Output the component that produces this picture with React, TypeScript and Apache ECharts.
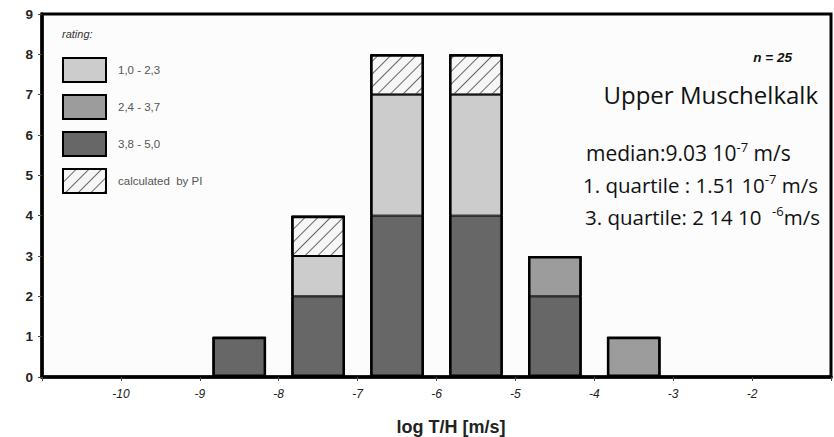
import React, { useEffect, useRef } from "react";
import * as echarts from "echarts";

// bins of log T/H (centres), one unit wide, from -11 to -1
const binCenters = ["-10.5", "-9.5", "-8.5", "-7.5", "-6.5", "-5.5", "-4.5", "-3.5", "-2.5", "-1.5"];
const rating10to23 = [0, 0, 0, 1, 3, 3, 0, 0, 0, 0];
const rating24to37 = [0, 0, 0, 0, 0, 0, 1, 1, 0, 0];
const rating38to50 = [0, 0, 1, 2, 4, 4, 2, 0, 0, 0];
const calculatedByPI = [0, 0, 0, 1, 1, 1, 0, 0, 0, 0];
const seriesNames = ["1,0 - 2,3", "2,4 - 3,7", "3,8 - 5,0", "calculated  by PI"];
const xMin = -11;
const xMax = -1;
const yMin = 0;
const yMax = 9;

const toBar = (arr: number[]) => arr.map((v) => (v === 0 ? "-" : v));
const totals = binCenters.map(
  (_, i) => rating10to23[i] + rating24to37[i] + rating38to50[i] + calculatedByPI[i]
);

export default function App() {
  const ref = useRef<HTMLDivElement>(null);
  useEffect(() => {
    if (!ref.current) return;
    const chart = echarts.init(ref.current, undefined, { renderer: "svg" });
    const barCommon = {
      type: "bar" as const,
      stack: "total",
      xAxisIndex: 0,
      barWidth: "68%",
      barGap: "-100%",
    };
    const sans = "'Liberation Sans', Arial, sans-serif";
    const myriad = "'Open Sans', 'Noto Sans', sans-serif";
    const supRich = {
      sup: { fontFamily: myriad, fontSize: 13, fill: "#111", verticalAlign: "top" as const, lineHeight: 14 },
    };
    chart.setOption({
      animation: false,
      backgroundColor: "#ffffff",
      grid: {
        left: 42,
        right: 3,
        top: 14,
        bottom: 60,
        show: true,
        borderColor: "#000",
        borderWidth: 3,
        backgroundColor: "#fcfcfc",
      },
      legend: {
        orient: "vertical",
        left: 62,
        top: 57,
        padding: 0,
        itemWidth: 43,
        itemHeight: 24,
        itemGap: 11,
        icon: "rect",
        selectedMode: false,
        data: [seriesNames[0], seriesNames[1], seriesNames[2], seriesNames[3]],
        textStyle: { fontFamily: sans, fontSize: 11.5, color: "#555", padding: [0, 0, 0, 7] },
      },
      xAxis: [
        {
          type: "category",
          data: binCenters,
          position: "bottom",
          axisLine: { show: false },
          axisTick: { show: false },
          axisLabel: { show: false },
          splitLine: { show: false },
        },
        {
          type: "value",
          min: xMin,
          max: xMax,
          interval: 1,
          position: "bottom",
          axisLine: { show: true, onZero: false, lineStyle: { color: "#000", width: 3.5 } },
          axisTick: { show: true, length: 4, lineStyle: { color: "#444", width: 1 } },
          axisLabel: {
            margin: 11,
            fontFamily: sans,
            fontStyle: "italic",
            fontSize: 12,
            color: "#222",
            formatter: (v: number) => (v === xMin || v === xMax ? "" : String(v)),
          },
          splitLine: { show: false },
        },
      ],
      yAxis: {
        type: "value",
        min: yMin,
        max: yMax,
        interval: 1,
        axisLine: { show: true, lineStyle: { color: "#000", width: 3.5 } },
        axisTick: { show: true, length: 4, lineStyle: { color: "#444", width: 1 } },
        axisLabel: { margin: 9, fontFamily: sans, fontWeight: "bold", fontSize: 13.5, color: "#222" },
        splitLine: { show: false },
      },
      series: [
        {
          ...barCommon,
          name: seriesNames[2],
          data: toBar(rating38to50),
          itemStyle: { color: "#676767", borderColor: "#000", borderWidth: 1 },
        },
        {
          ...barCommon,
          name: seriesNames[1],
          data: toBar(rating24to37),
          itemStyle: { color: "#9c9c9c", borderColor: "#000", borderWidth: 1 },
        },
        {
          ...barCommon,
          name: seriesNames[0],
          data: toBar(rating10to23),
          itemStyle: { color: "#cccccc", borderColor: "#000", borderWidth: 1 },
        },
        {
          ...barCommon,
          name: seriesNames[3],
          data: toBar(calculatedByPI),
          itemStyle: {
            color: "#f6f6f6",
            borderColor: "#000",
            borderWidth: 1,
            decal: {
              symbol: "rect",
              symbolSize: 1,
              dashArrayX: [1, 0],
              dashArrayY: [1, 8],
              rotation: -Math.PI / 4,
              color: "#666",
              backgroundColor: "#f6f6f6",
            },
          },
        },
        {
          type: "bar",
          name: "outline",
          xAxisIndex: 0,
          barWidth: "68%",
          barGap: "-100%",
          data: toBar(totals),
          silent: true,
          itemStyle: { color: "rgba(0,0,0,0)", borderColor: "#000", borderWidth: 2.5 },
        },
      ],
      graphic: [
        {
          type: "text",
          left: 62,
          top: 28,
          style: { text: "rating:", fontFamily: sans, fontStyle: "italic", fontSize: 11, fill: "#333" },
        },
        {
          type: "text",
          style: {
            x: 792,
            y: 57,
            align: "right",
            verticalAlign: "middle",
            text: "n = 25",
            fontFamily: sans,
            fontStyle: "italic",
            fontWeight: "bold",
            fontSize: 13.5,
            fill: "#111",
          },
        },
        {
          type: "text",
          style: {
            x: 818,
            y: 94,
            align: "right",
            verticalAlign: "middle",
            text: "Upper Muschelkalk",
            fontFamily: myriad,
            fontSize: 24,
            fill: "#111",
          },
        },
        {
          type: "text",
          style: {
            x: 586,
            y: 153,
            verticalAlign: "middle",
            text: "median:9.03 10{sup|-7} m/s",
            fontFamily: myriad,
            fontSize: 21,
            fill: "#111",
            lineHeight: 26,
            rich: supRich,
          },
        },
        {
          type: "text",
          style: {
            x: 583,
            y: 185,
            verticalAlign: "middle",
            text: "1. quartile : 1.51 10{sup|-7} m/s",
            fontFamily: myriad,
            fontSize: 20.5,
            fill: "#111",
            lineHeight: 26,
            rich: supRich,
          },
        },
        {
          type: "text",
          style: {
            x: 585,
            y: 217,
            verticalAlign: "middle",
            text: "3. quartile: 2 14 10  {sup|-6}m/s",
            fontFamily: myriad,
            fontSize: 20.5,
            fill: "#111",
            lineHeight: 26,
            rich: supRich,
          },
        },
        {
          type: "text",
          style: {
            x: 451,
            y: 427,
            align: "center",
            verticalAlign: "middle",
            text: "log T/H [m/s]",
            fontFamily: sans,
            fontWeight: "bold",
            fontSize: 18,
            fill: "#222",
          },
        },
      ],
    });
    return () => chart.dispose();
  }, []);
  return (
    <div style={{ position: "fixed", left: 0, top: 0 }}>
      <div ref={ref} style={{ width: 834, height: 437 }} />
    </div>
  );
}
